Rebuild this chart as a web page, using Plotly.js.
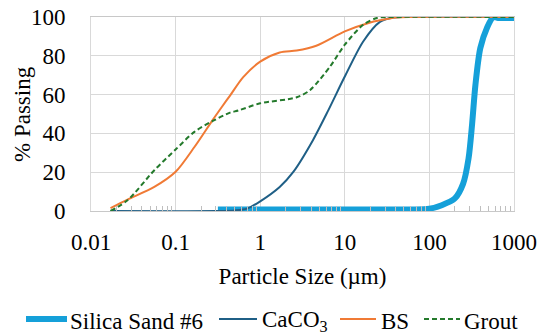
<!DOCTYPE html>
<html><head><meta charset="utf-8">
<script src="https://cdn.plot.ly/plotly-3.0.1.min.js"></script>
<style>html,body{margin:0;padding:0;background:#fff}#chart{width:539px;height:336px}
#chart text, #chart tspan{font-family:'Liberation Serif', Tinos, 'Times New Roman', serif !important;}</style>
</head><body><div id="chart"></div>
<script>
// Particle size (µm) and % passing
const silicaX = [0.316, 1, 10, 60, 100, 140, 200, 250, 290, 320, 350, 400, 480, 570, 650, 1000];
const silicaY = [0.8, 0.8, 0.8, 0.8, 1.2, 3, 6.5, 14, 27, 45, 65, 84, 94.5, 100, 99.5, 99.5];

const caco3X = [0.017, 0.3, 0.5, 0.7, 1, 1.7, 2.45, 4.2, 6.4, 10, 16.5, 26, 35, 50, 1000];
const caco3Y = [0, 0, 0.3, 1.2, 5, 12.4, 20, 36.5, 52, 69.3, 87.4, 97.5, 99.5, 100, 100];

const bsX = [0.017, 0.027, 0.056, 0.1, 0.167, 0.275, 0.35, 0.44, 0.63, 1, 1.7, 2.7, 4.6, 10, 20, 26, 40, 60, 1000];
const bsY = [1.5, 5.9, 12.4, 20.2, 33, 47, 53.5, 59.5, 69, 77, 81.7, 82.7, 85.2, 92.6, 97.2, 98.3, 99.7, 100, 100];

const groutX = [0.017, 0.027, 0.056, 0.1, 0.167, 0.275, 0.44, 0.55, 1, 2.7, 3.9, 6.7, 10, 16.5, 24, 40, 1000];
const groutY = [0, 5.5, 21, 31.7, 40.8, 46.4, 50.7, 51.8, 55.5, 58.6, 62.4, 74.5, 85.7, 96, 99.5, 100, 100];

const seriesNames = ['Silica Sand #6', 'CaCO<sub>3</sub>', 'BS', 'Grout'];
const seriesColors = ['#15a0d9', '#1f5f86', '#f07a35', '#247a2c'];
const xTickVals = [0.01, 0.1, 1, 10, 100, 1000];
const xTickText = ['0.01', '0.1', '1', '10', '100', '1000'];
const yTickVals = [0, 20, 40, 60, 80, 100];
const xTitle = 'Particle Size (µm)';
const yTitle = '% Passing';

const FONT = 'Liberation Serif, Tinos, Times New Roman, serif';
const TXT = () => ({family: FONT, size: 23, color: '#000'});
const sp = {shape: 'spline', smoothing: 0.8};
const GROUT_DASH = '5px,3px';

function makeTraces() {
  return [
    {x: silicaX, y: silicaY, name: seriesNames[0], mode: 'lines', line: Object.assign({color: seriesColors[0], width: 6}, sp)},
    {x: caco3X, y: caco3Y, name: seriesNames[1], mode: 'lines', line: Object.assign({color: seriesColors[1], width: 2}, sp)},
    {x: bsX, y: bsY, name: seriesNames[2], mode: 'lines', line: Object.assign({color: seriesColors[2], width: 2}, sp)},
    {x: groutX, y: groutY, name: seriesNames[3], mode: 'lines', line: Object.assign({color: seriesColors[3], width: 2, dash: GROUT_DASH}, sp)}
  ];
}

// plot-area geometry (pixels) used to place the hand-made legend
const M = {l: 91, r: 25, t: 17, b: 125};
const PW = 539 - M.l - M.r, PH = 336 - M.t - M.b;
const px = v => (v - M.l) / PW;
const py = v => (336 - M.b - v) / PH;

const legendItems = [
  {x0: 26, x1: 67, tx: 69, w: 6},
  {x0: 219, x1: 257, tx: 261, w: 2},
  {x0: 340, x1: 376, tx: 380, w: 2},
  {x0: 424, x1: 460, tx: 463, w: 2}
];
const legendLineY = 319, legendTextY = 321;

function makeLayout() {
  const shapes = legendItems.map((it, i) => ({
    type: 'line', xref: 'paper', yref: 'paper',
    x0: px(it.x0), x1: px(it.x1), y0: py(legendLineY), y1: py(legendLineY),
    line: {color: seriesColors[i], width: it.w, dash: i === 3 ? GROUT_DASH : 'solid'}
  }));
  const annotations = legendItems.map((it, i) => ({
    xref: 'paper', yref: 'paper', x: px(it.tx), y: py(legendTextY),
    xanchor: 'left', yanchor: 'middle', showarrow: false, borderpad: 0,
    text: seriesNames[i], font: TXT()
  }));
  annotations.push({
    xref: 'paper', yref: 'paper', x: px(22), y: 0.5, xanchor: 'center', yanchor: 'middle',
    textangle: -90, showarrow: false, borderpad: 0,
    text: yTitle, font: TXT()
  });
  return {
    width: 539, height: 336,
    margin: Object.assign({autoexpand: false}, M),
    paper_bgcolor: '#fff', plot_bgcolor: '#fff',
    font: TXT(),
    showlegend: false,
    xaxis: {
      type: 'log', range: [-2, 3],
      tickmode: 'array', tickvals: xTickVals, ticktext: xTickText,
      showgrid: true, gridcolor: '#d9d9d9', gridwidth: 1,
      zeroline: false, showline: true, linecolor: '#c8c8c8', linewidth: 1, mirror: true,
      ticks: '', ticklabelstandoff: 10, tickfont: TXT(),
      minor: {ticks: 'inside', ticklen: 5, tickcolor: '#bfbfbf', tickwidth: 1, showgrid: false,
              tickmode: 'array', tickvals: [0.02,0.03,0.04,0.05,0.06,0.07,0.08,0.09,0.2,0.3,0.4,0.5,0.6,0.7,0.8,0.9,2,3,4,5,6,7,8,9,20,30,40,50,60,70,80,90,200,300,400,500,600,700,800,900]},
      title: {text: xTitle, font: TXT(), standoff: 14},
      fixedrange: true
    },
    yaxis: {
      range: [0, 100], tickmode: 'array', tickvals: yTickVals,
      showgrid: true, gridcolor: '#d9d9d9', gridwidth: 1,
      zeroline: false, showline: true, linecolor: '#d9d9d9', mirror: true,
      ticks: '', ticklabelstandoff: 20, tickfont: TXT(),
      fixedrange: true
    },
    shapes: shapes,
    annotations: annotations
  };
}

const config = {displayModeBar: false, staticPlot: true};
Plotly.newPlot('chart', makeTraces(), makeLayout(), config);
</script>
</body></html>
